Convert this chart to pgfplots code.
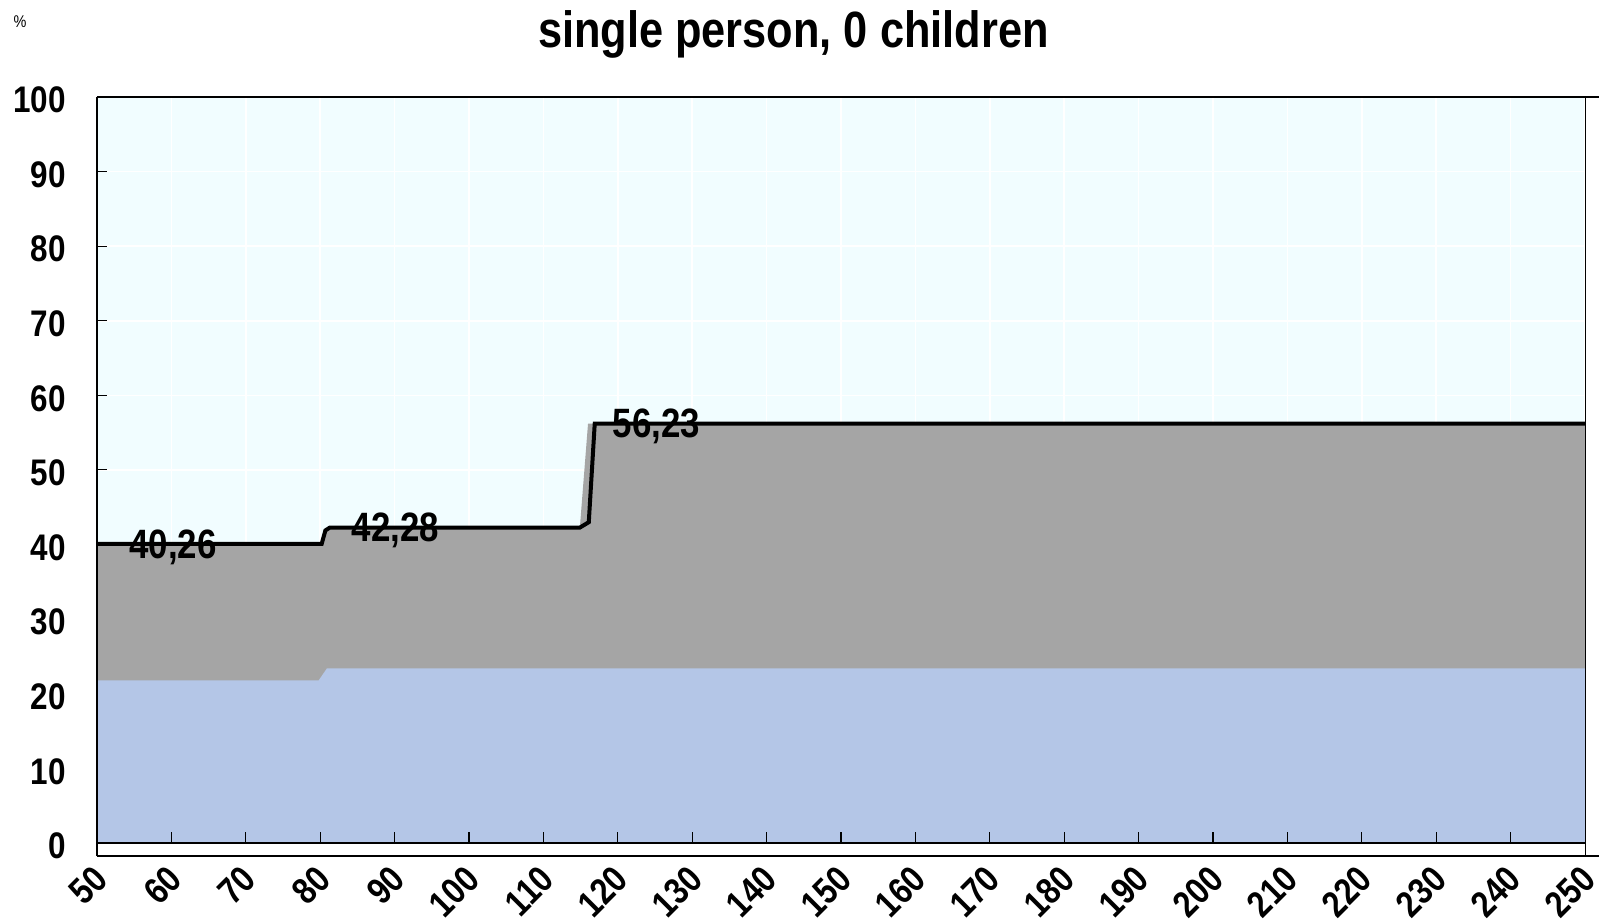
\documentclass[border=0pt]{standalone}
\usepackage{pgfplots}
\pgfplotsset{compat=1.18}
\usepackage{fontspec}
\setmainfont{Liberation Sans}[FakeStretch=0.85]
\definecolor{bgcyan}{RGB}{241,253,255}
\definecolor{areagray}{RGB}{165,165,165}
\definecolor{areablue}{RGB}{180,198,231}
\newcommand{\tickfont}{\bfseries\fontsize{18.5}{18.5}\selectfont}
\newcommand{\lblfont}{\bfseries\fontsize{20.5}{20.5}\selectfont}
\begin{document}
\begin{tikzpicture}
\path[use as bounding box] (-48.5pt,-31pt) rectangle (751pt,428pt);
\begin{axis}[
  scale only axis,
  width=744pt, height=379.5pt,
  xmin=50, xmax=250, ymin=-1.75, ymax=100,
  xtick={50,60,...,250},
  ytick={0,10,...,100},
  axis line style={draw=none},
  axis background/.style={fill=bgcyan},
  grid=major,
  major grid style={white, line width=0.8pt},
  tick align=inside,
  ytick pos=left,
  xtick style={draw=none},
  ytick style={black, line width=0.5pt},
  major tick length=5pt,
  /pgf/number format/assume math mode=true,
  ticklabel style={font=\tickfont},
  yticklabel style={anchor=east, xshift=-12pt, yshift=-1.5pt},
  xticklabel style={rotate=45, anchor=east, xshift=-1.3pt, yshift=-7.3pt},
  clip=false,
]
% total (gray) and lower component (blue)
\addplot[fill=areagray, draw=none] coordinates {
  (50,0) (50,40.26) (80,40.26) (81,42.28) (114.9,42.28) (116,56.23) (250,56.23) (250,0)
} \closedcycle;
\addplot[fill=areablue, draw=none] coordinates {
  (50,0) (50,21.8) (79.8,21.8) (80.9,23.4) (250,23.4) (250,0)
} \closedcycle;
% total line
\addplot[black, line width=2pt] coordinates {
  (50,40.1) (80.2,40.1) (80.7,41.9) (81.3,42.28) (114.9,42.28) (116.1,43.0) (116.9,56.23) (250,56.23)
};
\fill[white] (rel axis cs:0,0) rectangle (axis cs:250,0);
% axis frame, Excel style
\draw[black, line width=0.75pt] (axis cs:50,0) -- (axis cs:250,0);
\pgfplotsinvokeforeach{60,70,...,240}{
  \draw[black, line width=0.6pt] (axis cs:#1,0) -- (axis cs:#1,1.5);
}
\draw[black, line width=1pt] (rel axis cs:0,0) -- (rel axis cs:0,1);
\draw[black, line width=1pt] (rel axis cs:0,1) -- ([xshift=7pt]rel axis cs:1,1);
\draw[black, line width=1pt] (rel axis cs:0,0) -- ([xshift=7pt]rel axis cs:1,0);
\draw[black, line width=0.5pt] (rel axis cs:1,0) -- (rel axis cs:1,1);
% value labels
\node[anchor=west, inner sep=0pt, font=\lblfont] at (axis cs:54.3,39.6) {40,26};
\node[anchor=west, inner sep=0pt, font=\lblfont] at (axis cs:84.2,41.9) {42,28};
\node[anchor=west, inner sep=0pt, font=\lblfont] at (axis cs:119.3,55.9) {56,23};
% title and unit
\node[font=\bfseries\fontsize{25.5}{25.5}\selectfont] at ([yshift=31.5pt]rel axis cs:0.468,1) {single person, 0 children};
\node[font=\fontsize{8.5}{8.5}\selectfont] at ([xshift=-38.5pt,yshift=37.5pt]rel axis cs:0,1) {\%};
\end{axis}
\end{tikzpicture}
\end{document}
